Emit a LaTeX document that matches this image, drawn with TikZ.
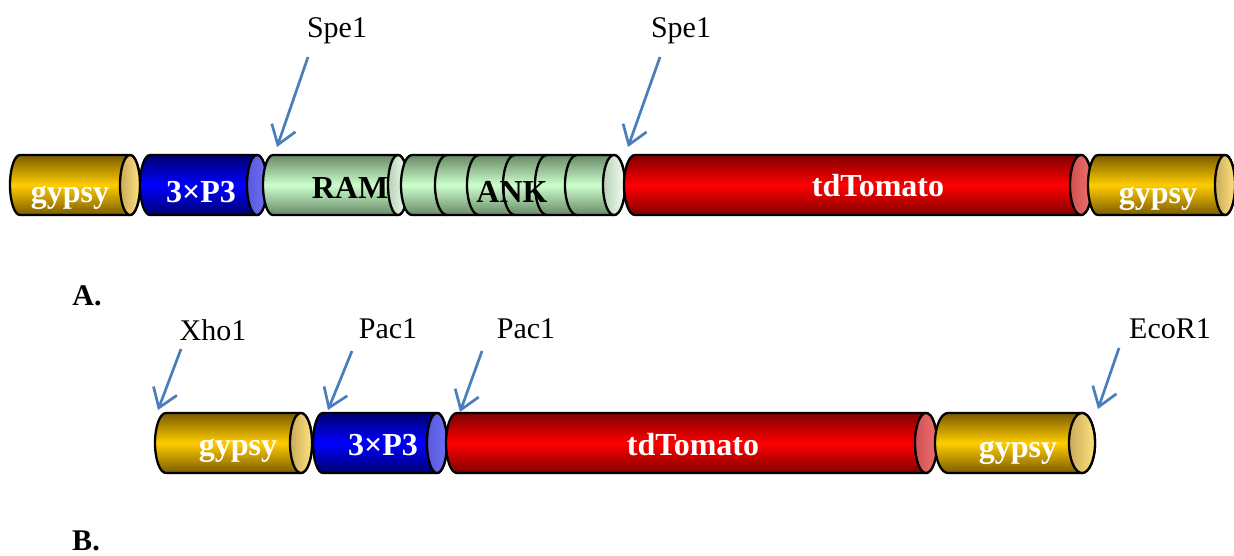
\documentclass[tikz,border=0pt]{standalone}
\usepackage{fontspec}
\setmainfont{Liberation Serif}
\usetikzlibrary{arrows.meta}
\definecolor{gypD}{HTML}{7A5C00}
\definecolor{gypL}{HTML}{FFCC00}
\definecolor{gypCD}{HTML}{C9AA5C}
\definecolor{gypCL}{HTML}{FFE37D}
\definecolor{pD}{HTML}{000070}
\definecolor{pL}{HTML}{0000FF}
\definecolor{pCD}{HTML}{5858E0}
\definecolor{pCL}{HTML}{7070F0}
\definecolor{gD}{HTML}{688868}
\definecolor{gL}{HTML}{CCFFCC}
\definecolor{gCD}{HTML}{B8D0B8}
\definecolor{gCL}{HTML}{F2FFF2}
\definecolor{rD}{HTML}{800000}
\definecolor{rL}{HTML}{FF0000}
\definecolor{rCD}{HTML}{D05050}
\definecolor{rCL}{HTML}{F07070}
\definecolor{arrowblue}{HTML}{4A7EBB}
\newcommand{\cylbody}[5]{% xL xR yc rx style
  \path[#5] (#1,#3-30) -- (#2,#3-30) arc[start angle=-90,end angle=90,x radius=#4,y radius=30]
    -- (#1,#3+30) arc[start angle=90,end angle=270,x radius=#4,y radius=30] -- cycle;}
\newcommand{\cylcap}[4]{% x yc rx style
  \path[#4] (#1,#2) ellipse[x radius=#3,y radius=30];}
\begin{document}
\begin{tikzpicture}[x=1pt,y=-1pt,
  outl/.style={draw=black,line width=2.3pt},
  gypbody/.style={outl,top color=gypD,bottom color=gypD,middle color=gypL},
  gypcap/.style={outl,left color=gypCD,right color=gypCL},
  pbody/.style={outl,top color=pD,bottom color=pD,middle color=pL},
  pcap/.style={outl,left color=pCD,right color=pCL},
  gbody/.style={outl,top color=gD,bottom color=gD,middle color=gL},
  gcap/.style={outl,left color=gCD,right color=gCL},
  rbody/.style={outl,top color=rD,bottom color=rD,middle color=rL},
  rcap/.style={outl,left color=rCD,right color=rCL},
  intext/.style={anchor=base,text=white,font=\fontsize{32}{32}\selectfont\bfseries,inner sep=0pt},
  intextk/.style={intext,text=black},
  site/.style={anchor=base,font=\fontsize{30}{30}\selectfont,inner sep=0pt},
  panel/.style={anchor=base,font=\fontsize{30}{30}\selectfont\bfseries,inner sep=0pt},
  cut/.style={draw=arrowblue,line width=2.7pt,-{Straight Barb[length=18pt,width=25pt]}}]
\useasboundingbox (0,0) rectangle (1234,555);
% ---------- Row A ----------
\cylbody{20}{130}{185}{10}{gypbody}\cylcap{130}{185}{10}{gypcap}
\cylbody{150}{257}{185}{10}{pbody}\cylcap{257}{185}{10}{pcap}
\cylbody{273}{398}{185}{10}{gbody}\cylcap{398}{185}{10}{gcap}
\cylbody{412}{614}{185}{11}{gbody}\cylcap{614}{185}{11}{gcap}
\foreach \ax in {447,479,515,547,577}{
  \draw[line width=2.3pt] (\ax,155) arc[start angle=-90,end angle=-270,x radius=12,y radius=30];}
\cylbody{635}{1081}{185}{11}{rbody}\cylcap{1081}{185}{11}{rcap}
\cylbody{1098}{1225}{185}{10}{gypbody}\cylcap{1225}{185}{10}{gypcap}
\node[intext] (tA1) at (70,202) {gypsy};
\node[intext] (tA2) at (201,202) {3×P3};
\node[intextk] (tA3) at (350,198) {RAM};
\node[intextk] (tA4) at (512,202) {ANK};
\node[intext] (tA5) at (878,196) {tdTomato};
\node[intext] (tA6) at (1158,203) {gypsy};
% ---------- Row B ----------
\cylbody{166}{301}{443}{11}{gypbody}\cylcap{301}{443}{11}{gypcap}
\cylbody{323}{437}{443}{10}{pbody}\cylcap{437}{443}{10}{pcap}
\cylbody{457}{926}{443}{11}{rbody}\cylcap{926}{443}{11}{rcap}
\cylbody{948}{1082}{443}{13}{gypbody}\cylcap{1082}{443}{13}{gypcap}
\node[intext] (tB1) at (238,455) {gypsy};
\node[intext] (tB2) at (383,455) {3×P3};
\node[intext] (tB3) at (693,455) {tdTomato};
\node[intext] (tB4) at (1018,457) {gypsy};
% ---------- sites ----------
\node[site] (s1) at (337,37) {Spe1};
\node[site] (s2) at (681,37) {Spe1};
\node[site] (s3) at (213,340) {Xho1};
\node[site] (s4) at (388,338) {Pac1};
\node[site] (s5) at (526,338) {Pac1};
\node[site] (s6) at (1170,338) {EcoR1};
\coordinate (a1) at (308,57);  \coordinate (b1) at (277,147);
\coordinate (a2) at (660,57);  \coordinate (b2) at (628,147);
\coordinate (a3) at (181,349); \coordinate (b3) at (158,410);
\coordinate (a4) at (352,351); \coordinate (b4) at (328,410);
\coordinate (a5) at (482,351); \coordinate (b5) at (460,412);
\coordinate (a6) at (1119,348);\coordinate (b6) at (1098,409);
\foreach \i in {1,...,6}{\draw[cut] (a\i) -- (b\i);}
\node[panel] (pA) at (87,305) {A.};
\node[panel] (pB) at (86,550) {B.};
\end{tikzpicture}
\end{document}
